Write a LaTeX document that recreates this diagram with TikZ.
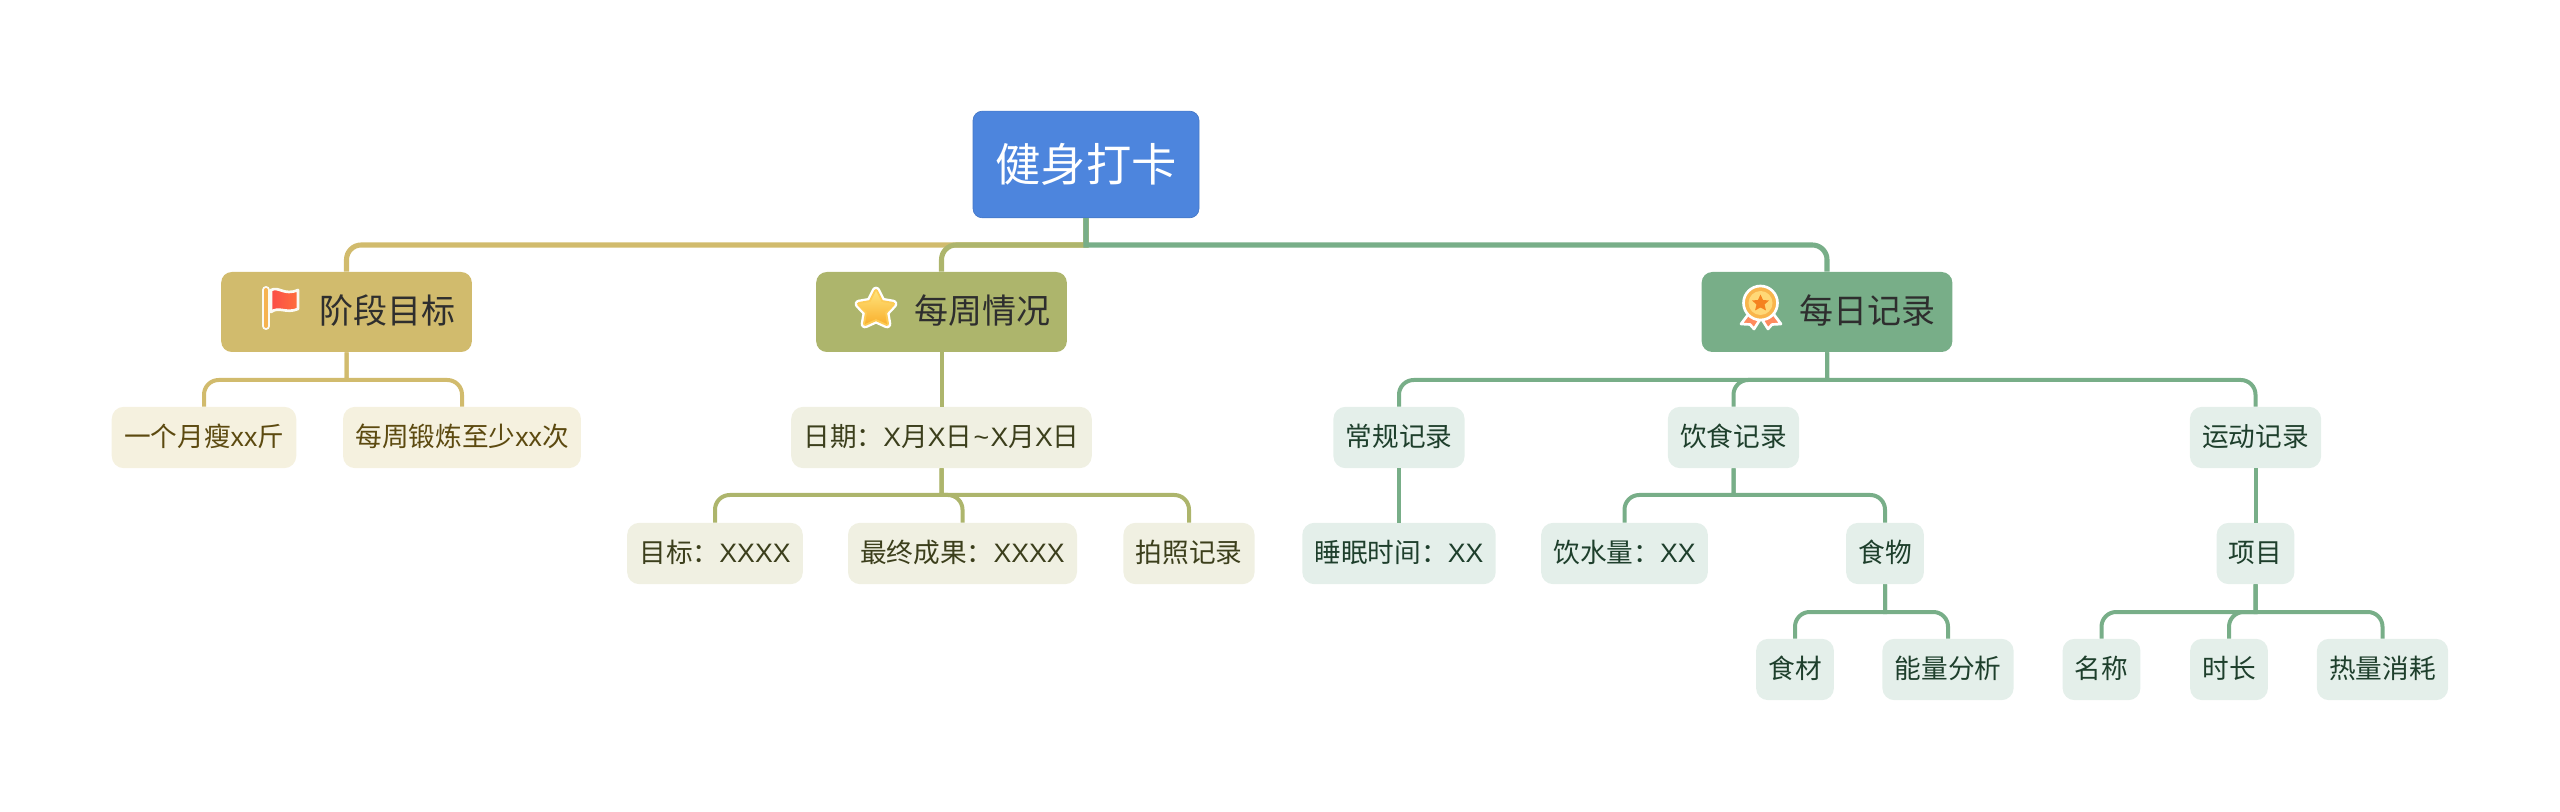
\documentclass[tikz,border=0pt]{standalone}
\usepackage{fontspec}
\setmainfont{Noto Sans CJK SC}
\newfontfamily\latn{Liberation Sans}
\newcommand{\lat}[1]{{\latn #1}}
\definecolor{rootblue}{HTML}{4D85DD}
\definecolor{goldmain}{HTML}{D1BB6D}
\definecolor{goldpale}{HTML}{F5F1DF}
\definecolor{goldtext}{HTML}{5C4A10}
\definecolor{olivemain}{HTML}{ADB56C}
\definecolor{olivepale}{HTML}{F0F0E2}
\definecolor{olivetext}{HTML}{3C3F1C}
\definecolor{greenmain}{HTML}{78AE88}
\definecolor{greenpale}{HTML}{E4EFEA}
\definecolor{greentext}{HTML}{1E3F2C}
\definecolor{flagred}{HTML}{FB4D47}
\definecolor{flagorange}{HTML}{FF6F3C}
\definecolor{polegold}{HTML}{F6B350}
\definecolor{starhigh}{HTML}{FFE27A}
\definecolor{starlow}{HTML}{F9B12F}
\definecolor{starmid}{HTML}{FDCB55}
\definecolor{medalring}{HTML}{F9B54C}
\definecolor{medalface}{HTML}{FFD877}
\definecolor{medalstar}{HTML}{F5821F}
\definecolor{medalband}{HTML}{FF8B5E}
\tikzset{
  rootbox/.style={rounded corners=7pt, fill=rootblue, draw=rootblue!90!black, line width=.5pt,
    minimum width=169.5pt, minimum height=80pt, text=white, font=\fontsize{34pt}{36pt}\selectfont,
    text height=28pt, text depth=3pt},
  mainbox/.style={rounded corners=8pt, minimum width=188pt, minimum height=60pt,
    text=black!82, font=\fontsize{25.5pt}{28pt}\selectfont, text height=20pt, text depth=2.5pt, inner xsep=0pt},
  subbox/.style={rounded corners=9pt, minimum height=46pt, inner xsep=9.2pt,
    font=\fontsize{20pt}{22pt}\selectfont, text height=15.5pt, text depth=2pt},
  goldsub/.style={subbox, fill=goldpale, text=goldtext},
  olivesub/.style={subbox, fill=olivepale, text=olivetext},
  greensub/.style={subbox, fill=greenpale, text=greentext},
  bigline/.style={line width=3.8pt},
  goldline/.style={line width=3pt, draw=goldmain},
  oliveline/.style={line width=3pt, draw=olivemain},
  greenline/.style={line width=3pt, draw=greenmain},
  roundturn/.style={rounded corners=11pt}
}
\begin{document}
\begin{tikzpicture}[x=.75pt, y=-.75pt]
\useasboundingbox (0,0) rectangle (2560,812);
% joints on the buses
\coordinate (0j) at (1086,245);
\coordinate (1j) at (346.5,380);
\coordinate (2j) at (941.5,495);
\coordinate (3j) at (1827,380);
\coordinate (3bj) at (1733.5,495);
\coordinate (3b2j) at (1885,612);
\coordinate (3c1j) at (2255.5,612);
% top level
\node[rootbox] (0) at (1086,164.5) {健身打卡};
\node[mainbox, fill=goldmain] (1) at (346.5,312) {\hspace{61pt}阶段目标};
\node[mainbox, fill=olivemain] (2) at (941.5,312) {\hspace{61pt}每周情况};
\node[mainbox, fill=greenmain] (3) at (1827,312) {\hspace{61pt}每日记录};
% second row
\node[goldsub] (1a) at (204,437.5) {一个月瘦\lat{xx}斤};
\node[goldsub] (1b) at (462,437.5) {每周锻炼至少\lat{xx}次};
\node[olivesub] (2a) at (941.5,437.5) {日期：\lat{X}月\lat{X}日\lat{\kern1pt\textasciitilde\kern1pt}\lat{X}月\lat{X}日};
\node[greensub] (3a) at (1399,437.5) {常规记录};
\node[greensub] (3b) at (1733.5,437.5) {饮食记录};
\node[greensub] (3c) at (2255.5,437.5) {运动记录};
% third row
\node[olivesub] (2a1) at (715,553.5) {目标：\lat{XXXX}};
\node[olivesub] (2a2) at (962.5,553.5) {最终成果：\lat{XXXX}};
\node[olivesub] (2a3) at (1189,553.5) {拍照记录};
\node[greensub] (3a1) at (1399,553.5) {睡眠时间：\lat{XX}};
\node[greensub] (3b1) at (1624.5,553.5) {饮水量：\lat{XX}};
\node[greensub] (3b2) at (1885,553.5) {食物};
\node[greensub] (3c1) at (2255.5,553.5) {项目};
% fourth row
\node[greensub] (3b2a) at (1795,669.5) {食材};
\node[greensub] (3b2b) at (1948,669.5) {能量分析};
\node[greensub] (3c1a) at (2101.5,669.5) {名称};
\node[greensub] (3c1b) at (2229,669.5) {时长};
\node[greensub] (3c1c) at (2382.5,669.5) {热量消耗};
% connectors
\draw[goldline, bigline] (0.south) -- (0j) [roundturn] -| (1.north);
\draw[oliveline, bigline] (0.south) -- (0j) [roundturn] -| (2.north);
\draw[greenline, bigline] (0.south) -- (0j) [roundturn] -| (3.north);
\draw[goldline] (1.south) -- (1j) [roundturn] -| (1a.north);
\draw[goldline] (1.south) -- (1j) [roundturn] -| (1b.north);
\draw[oliveline] (2.south) -- (2a.north);
\draw[oliveline] (2a.south) -- (2j) [roundturn] -| (2a1.north);
\draw[oliveline] (2a.south) -- (2j) [roundturn] -| (2a2.north);
\draw[oliveline] (2a.south) -- (2j) [roundturn] -| (2a3.north);
\draw[greenline] (3.south) -- (3j) [roundturn] -| (3a.north);
\draw[greenline] (3.south) -- (3j) [roundturn] -| (3b.north);
\draw[greenline] (3.south) -- (3j) [roundturn] -| (3c.north);
\draw[greenline] (3a.south) -- (3a1.north);
\draw[greenline] (3b.south) -- (3bj) [roundturn] -| (3b1.north);
\draw[greenline] (3b.south) -- (3bj) [roundturn] -| (3b2.north);
\draw[greenline] (3b2.south) -- (3b2j) [roundturn] -| (3b2a.north);
\draw[greenline] (3b2.south) -- (3b2j) [roundturn] -| (3b2b.north);
\draw[greenline] (3c.south) -- (3c1.north);
\draw[greenline] (3c1.south) -- (3c1j) [roundturn] -| (3c1a.north);
\draw[greenline] (3c1.south) -- (3c1j) [roundturn] -| (3c1b.north);
\draw[greenline] (3c1.south) -- (3c1j) [roundturn] -| (3c1c.north);
% flag
\draw[white!92!goldmain, line width=6pt, line cap=round] (266,290) -- (266,326);
\draw[polegold, line width=3pt, line cap=round] (266,290) -- (266,326);
\filldraw[draw=white!92!goldmain, line width=2pt, line join=round, left color=flagred, right color=flagorange]
  (271,290) .. controls (279,286) and (284,296) .. (298,290) -- (298,309)
  .. controls (286,314) and (279,306) .. (271,312) -- cycle;
% star
\draw[white, line width=6.5pt, line join=round]
  (876,291) -- (881.5,302) -- (893,304) -- (885,312.5) -- (887,324) -- (876,319)
  -- (865,324) -- (867,312.5) -- (859,304) -- (870.5,302) -- cycle;
\draw[starmid, line width=3pt, line join=round]
  (876,291) -- (881.5,302) -- (893,304) -- (885,312.5) -- (887,324) -- (876,319)
  -- (865,324) -- (867,312.5) -- (859,304) -- (870.5,302) -- cycle;
\shade[top color=starhigh, bottom color=starlow]
  (876,291) -- (881.5,302) -- (893,304) -- (885,312.5) -- (887,324) -- (876,319)
  -- (865,324) -- (867,312.5) -- (859,304) -- (870.5,302) -- cycle;
% medal
\filldraw[draw=white, line width=2pt, line join=round, fill=medalband]
  (1750,312) -- (1741,324) -- (1750,324.5) -- (1754,329) -- (1761,318) -- (1768,329) -- (1772,324.5) -- (1781,324) -- (1772,312) -- cycle;
\filldraw[draw=white, line width=2pt, fill=medalring] (1760.5,303) circle (17);
\fill[medalface] (1760.5,303) circle (12);
\fill[medalstar] (1760.5,294.5) -- (1763,300) -- (1769,300.5) -- (1764.5,304.5) -- (1766,310.5)
  -- (1760.5,307.5) -- (1755,310.5) -- (1756.5,304.5) -- (1752,300.5) -- (1758,300) -- cycle;
\end{tikzpicture}
\end{document}
